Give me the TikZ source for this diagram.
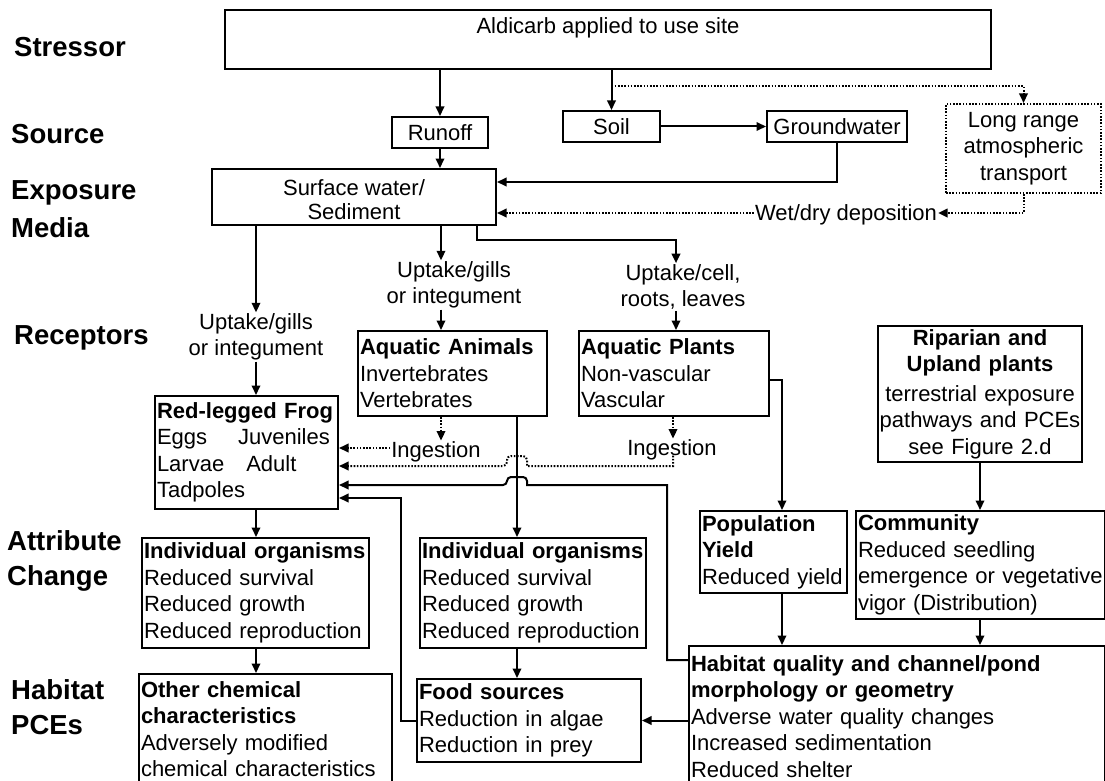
\documentclass[tikz,border=0pt]{standalone}
\usepackage{fontspec}
\setmainfont{Liberation Sans}
\usetikzlibrary{arrows.meta}
\begin{document}
\begin{tikzpicture}[x=1pt,y=-1pt,
 lbl/.style={font=\fontsize{27.5}{35}\selectfont\bfseries, align=left, anchor=west, inner sep=0pt},
 bx/.style={draw, line width=2pt, anchor=north west, inner xsep=2pt, inner ysep=0pt, font=\fontsize{22}{26.5}\selectfont},
 lbx/.style={bx, align=left},
 cbx/.style={bx, align=center},
 txt/.style={font=\fontsize{22}{26.5}\selectfont, align=center, inner sep=1pt},
 ln/.style={line width=2pt},
 arr/.style={ln, -{Triangle[length=9.5pt,width=8.5pt]}},
 dotln/.style={line width=2pt, dash pattern=on 1.6pt off 1.6pt},
 dotarr/.style={dotln, -{Triangle[length=9.5pt,width=8.5pt]}},
]
\useasboundingbox (0,0) rectangle (1105,781);
\clip (0,0) rectangle (1105,781);
\fill[white] (0,0) rectangle (1105,781);

% helper coordinates
\coordinate (x401) at (401,0);
\coordinate (x441) at (441,0);
\coordinate (x477) at (477,0);
\coordinate (x507) at (507,0);
\coordinate (x517) at (517,0);
\coordinate (x527) at (527,0);
\coordinate (x667) at (667,0);
\coordinate (x673) at (673,0);
\coordinate (x676) at (676,0);
\coordinate (x782) at (782,0);
\coordinate (y86) at (0,86);
\coordinate (y182) at (0,182);
\coordinate (y213) at (0,213);
\coordinate (y240) at (0,240);
\coordinate (y380) at (0,380);
\coordinate (y448) at (0,448);
\coordinate (y456) at (0,456);
\coordinate (y466) at (0,466);
\coordinate (y477) at (0,477);
\coordinate (y485) at (0,485);
\coordinate (y498) at (0,498);
\coordinate (y660) at (0,660);

% row labels
\node[lbl] (lstressor) at (14,47) {Stressor};
\node[lbl] (lsource) at (11,134) {Source};
\node[lbl] (lexposure) at (11,209) {Exposure\\[3pt]Media};
\node[lbl] (lreceptors) at (14,338) {Receptors};
\node[lbl] (lattribute) at (7,561) {Attribute\\Change};
\node[lbl] (lhabitat) at (11,707) {Habitat\\PCEs};

% boxes
\node[cbx, minimum width=766pt, inner ysep=8pt, text height=16pt, text depth=27pt] (aldicarb) at (224,9) {Aldicarb applied to use site};
\node[cbx, minimum width=96pt, minimum height=31pt] (runoff) at (391,116) {Runoff};
\node[cbx, minimum width=97pt, minimum height=31pt] (soil) at (562,110) {Soil};
\node[cbx, minimum width=140pt, minimum height=31pt] (groundwater) at (766,110) {Groundwater};
\node[cbx, dotln, minimum width=155pt, minimum height=89pt] (longrange) at (945,103) {Long range\\atmospheric\\transport};
\node[cbx, minimum width=284pt, minimum height=56pt, font=\fontsize{22}{24.5}\selectfont] (surface) at (211,168) {\rule{0pt}{21pt}Surface water/\\Sediment};

\node[lbx, text width=185pt, minimum height=85pt] (animals) at (357,330) {\textbf{Aquatic Animals}\\Invertebrates\\Vertebrates};
\node[lbx, text width=186pt, minimum height=85pt] (plants) at (578,330) {\textbf{Aquatic Plants}\\Non-vascular\\Vascular};
\node[cbx, inner xsep=0pt, text width=204pt, minimum height=136pt] (riparian) at (877,325) {\mbox{\textbf{Riparian and}}\\\mbox{\textbf{Upland plants}}\\[3pt]\mbox{terrestrial exposure}\\\mbox{pathways and PCEs}\\\mbox{see Figure 2.d}};
\node[lbx, text width=179pt, minimum height=113pt] (frog) at (154,395) {\textbf{Red-legged Frog}\\Eggs\hspace*{31pt}Juveniles\\Larvae\hspace*{22pt}Adult\\Tadpoles};

\node[lbx, text width=223pt, minimum height=110pt] (io1) at (141,537) {\textbf{Individual organisms}\\Reduced survival\\Reduced growth\\Reduced reproduction};
\node[lbx, text width=222pt, minimum height=110pt] (io2) at (419,537) {\textbf{Individual organisms}\\Reduced survival\\Reduced growth\\Reduced reproduction};
\node[lbx, text width=143pt, minimum height=82pt] (population) at (699,510) {\textbf{Population}\\\textbf{Yield}\\Reduced yield};
\node[lbx, text width=245pt, minimum height=108pt] (community) at (855,510) {\textbf{Community}\\Reduced seedling\\\mbox{emergence or vegetative}\\vigor (Distribution)};

\node[lbx, text width=249pt, minimum height=110pt] (other) at (138,673) {\textbf{Other chemical}\\\textbf{characteristics}\\Adversely modified\\chemical characteristics};
\node[lbx, text width=220pt, minimum height=83pt] (food) at (416,678) {\textbf{Food sources}\\Reduction in algae\\Reduction in prey};
\node[lbx, text width=412pt, minimum height=141pt] (habitat) at (688,645) {\textbf{Habitat quality and channel/pond}\\\textbf{morphology or geometry}\\Adverse water quality changes\\Increased sedimentation\\Reduced shelter};

% free text labels
\node[txt] (wetdry) at (846,215) {Wet/dry deposition};
\node[txt] (upt1) at (256,337) {Uptake/gills\\or integument};
\node[txt] (upt2) at (454,285) {Uptake/gills\\or integument};
\node[txt] (upt3) at (683,287) {Uptake/cell,\\roots, leaves};
\node[txt] (ing1) at (436,452) {Ingestion};
\node[txt] (ing2) at (672,450) {Ingestion};

% connectors: stressor and source
\draw[arr] (aldicarb.south -| runoff.north) -- (runoff.north);
\draw[arr] (aldicarb.south -| soil.north) -- (soil.north);
\draw[dotarr] (soil.north |- y86) -| (longrange.north);
\draw[arr] (soil.east) -- (groundwater.west);
\draw[arr] (runoff.south) -- (runoff.south |- surface.north);
\draw[arr] (groundwater.south) |- (surface.east |- y182);
\draw[dotarr] (longrange.south) |- (wetdry.east |- y213);
\draw[dotarr] (wetdry.west |- y213) -- (surface.east |- y213);

% exposure to receptors
\draw[arr] (surface.south -| upt1.north) -- (upt1.north);
\draw[arr] (upt1.south) -- (upt1.south |- frog.north);
\draw[arr] (surface.south -| x441) -- (upt2.north -| x441);
\draw[arr] (upt2.south -| x441) -- (animals.north -| x441);
\draw[arr] (surface.south -| x477) |- (x676 |- y240) -- (upt3.north -| x676);
\draw[arr] (upt3.south -| x676) -- (plants.north -| x676);

% ingestion
\draw[dotarr] (animals.south -| x441) -- (ing1.north -| x441);
\draw[dotarr] (ing1.west |- y448) -- (frog.east |- y448);
\draw[dotarr] (plants.south -| x673) -- (ing2.north -| x673);
\draw[dotarr] (ing2.base -| x673) -- (x673 |- y466) -- (x527 |- y466) [rounded corners=4pt] -- (x527 |- y456) -- (x507 |- y456) -- (x507 |- y466) [sharp corners] -- (frog.east |- y466);

% vertical from aquatic animals
\draw[arr] (animals.south -| x517) -- (io2.north -| x517);

% habitat feedback to frog
\draw[arr] (habitat.west |- y660) -| (x667 |- y485) -- (x527 |- y485) [rounded corners=4pt] -- (x527 |- y477) -- (x507 |- y477) -- (x507 |- y485) [sharp corners] -- (frog.east |- y485);
\draw[arr] (food.west) -| (x401 |- y498) -- (frog.east |- y498);

% attribute change
\draw[arr] (frog.south -| upt1.south) -- (io1.north -| upt1.south);
\draw[arr] (io1.south -| upt1.south) -- (other.north -| upt1.south);
\draw[arr] (io2.south -| x517) -- (food.north -| x517);
\draw[arr] (plants.east |- y380) -| (x782 |- population.north);
\draw[arr] (population.south -| x782) -- (habitat.north -| x782);
\draw[arr] (riparian.south) -- (riparian.south |- community.north);
\draw[arr] (community.south -| riparian.south) -- (habitat.north -| riparian.south);
\draw[arr] (habitat.west |- food.east) -- (food.east);
\end{tikzpicture}
\end{document}
